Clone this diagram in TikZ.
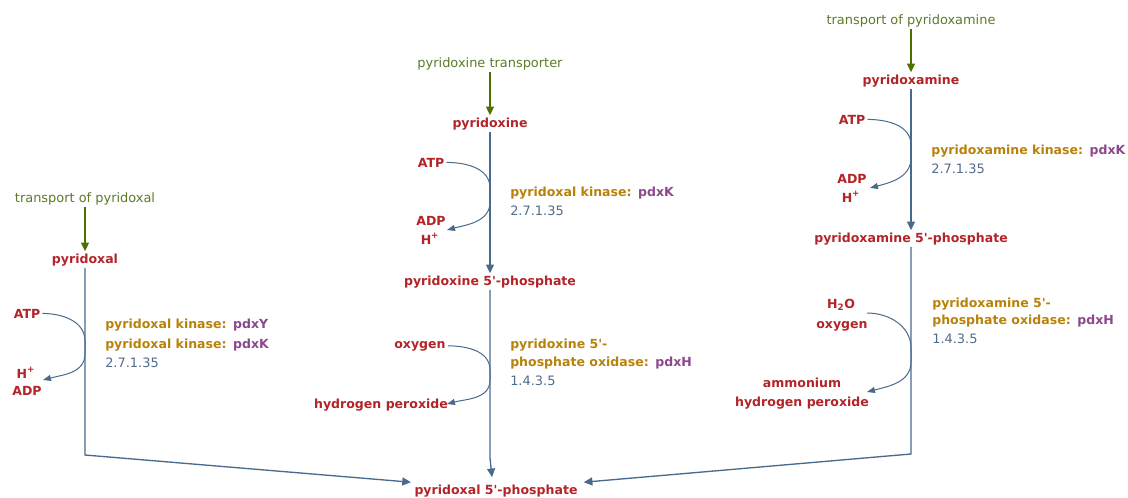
\documentclass[tikz,border=0pt]{standalone}
\usepackage{fontspec}
\setmainfont{DejaVu Sans}
\usetikzlibrary{arrows.meta}

\definecolor{metred}{RGB}{178,36,40}
\definecolor{transgreen}{RGB}{92,122,42}
\definecolor{arrowgreen}{RGB}{78,112,0}
\definecolor{pathblue}{RGB}{72,106,140}
\definecolor{enzorange}{RGB}{184,130,10}
\definecolor{genepurple}{RGB}{140,72,140}
\definecolor{ecblue}{RGB}{80,108,140}

\tikzset{
  met/.style={text=metred, font=\fontsize{9.4}{11}\selectfont\bfseries, anchor=base, inner sep=1.5pt},
  trans/.style={text=transgreen, font=\fontsize{9.7}{11}\selectfont, anchor=base, inner sep=1.5pt},
  enz/.style={text=enzorange, font=\fontsize{9.4}{11}\selectfont\bfseries, anchor=base west, inner sep=0pt},
  ec/.style={text=ecblue, font=\fontsize{9.7}{11}\selectfont, anchor=base west, inner sep=0pt},
  mainline/.style={draw=pathblue, line width=1pt, -{Triangle[length=6.5pt,width=6pt]}},
  sideline/.style={draw=pathblue, line width=0.75pt, -{Triangle[length=6pt,width=4.5pt]}},
  transline/.style={draw=arrowgreen, line width=1pt, -{Triangle[length=6.5pt,width=6pt]}}
}
\newcommand{\gene}[1]{\hspace{0.5pt}\textcolor{genepurple}{#1}}
\newcommand{\pr}{\textquotesingle}

\begin{document}
\begin{tikzpicture}[x=0.75pt,y=-0.75pt]
\useasboundingbox (0,0) rectangle (1128,497);

% Left branch: pyridoxal
\node[trans] (tPL) at (85,202) {transport of pyridoxal};
\node[met] (PL) at (85,263) {pyridoxal};
\node[met] (atpL) at (27,318) {ATP};
\node[met] (hL) at (26,378) {H\textsuperscript{+}};
\node[met] (adpL) at (27,395) {ADP};
\node[enz] (enzL1) at (105,328) {pyridoxal kinase: \gene{pdxY}};
\node[enz] (enzL2) at (105,348) {pyridoxal kinase: \gene{pdxK}};
\node[ec] (ecL) at (105,367) {2.7.1.35};

% Middle branch: pyridoxine
\node[trans] (tPN) at (490,67) {pyridoxine transporter};
\node[met] (PN) at (490,127) {pyridoxine};
\node[met] (atpN) at (431,167) {ATP};
\node[met] (adpN) at (431,225) {ADP};
\node[met] (hN) at (430,244) {H\textsuperscript{+}};
\node[enz] (enzN1) at (510,196) {pyridoxal kinase: \gene{pdxK}};
\node[ec] (ecN1) at (510,215) {2.7.1.35};
\node[met] (PNP) at (490,285) {pyridoxine 5\pr-phosphate};
\node[met] (oxN) at (420,348) {oxygen};
\node[met] (hpN) at (381,408) {hydrogen peroxide};
\node[enz] (enzN2) at (510,348) {pyridoxine 5\pr-};
\node[enz] (enzN3) at (510,366) {phosphate oxidase: \gene{pdxH}};
\node[ec] (ecN2) at (510,385) {1.4.3.5};

% Right branch: pyridoxamine
\node[trans] (tPM) at (911,24) {transport of pyridoxamine};
\node[met] (PM) at (911,84) {pyridoxamine};
\node[met] (atpM) at (852,124) {ATP};
\node[met] (adpM) at (852,183) {ADP};
\node[met] (hM) at (851,202) {H\textsuperscript{+}};
\node[enz] (enzM1) at (931,154) {pyridoxamine kinase: \gene{pdxK}};
\node[ec] (ecM1) at (931,173) {2.7.1.35};
\node[met] (PMP) at (911,242) {pyridoxamine 5\pr-phosphate};
\node[met] (h2oM) at (841,308) {H\textsubscript{2}O};
\node[met] (oxM) at (842,328) {oxygen};
\node[met] (amM) at (802,387) {ammonium};
\node[met] (hpM) at (802,406) {hydrogen peroxide};
\node[enz] (enzM2) at (932,307) {pyridoxamine 5\pr-};
\node[enz] (enzM3) at (932,324) {phosphate oxidase: \gene{pdxH}};
\node[ec] (ecM2) at (932,343) {1.4.3.5};

% Product
\node[met] (PLP) at (496,494) {pyridoxal 5\pr-phosphate};

% Transport arrows
\draw[transline] (tPL) -- (PL);
\draw[transline] (tPN) -- (PN);
\draw[transline] (tPM) -- (PM);

% Main reactions
\draw[mainline] (PN) -- (PNP);
\draw[mainline] (PM) -- (PMP);
\draw[mainline] (PL) -- (85,455) -- ([xshift=-1pt]PLP.north west);
\draw[mainline] (PNP) -- (490,458) -- ([shift={(-4,-5)}]PLP.north);
\draw[mainline] (PMP) -- (911,454) -- ([xshift=3pt]PLP.north east);

% Cofactor arcs
\draw[sideline] (atpL.east) to[out=0,in=90] (85,341) -- (85,354) to[out=-90,in=15] (43,380);
\draw[sideline] (atpN.east) to[out=0,in=90] (490,188) -- (490,202) to[out=-90,in=15] (447,230);
\draw[sideline] (oxN.east) to[out=0,in=90] (490,370) -- (490,380) to[out=-90,in=15] (447,404);
\draw[sideline] (atpM.east) to[out=0,in=90] (911,145) -- (911,158) to[out=-90,in=15] (870,188);
\draw[sideline] (867,313) to[out=0,in=90] (911,348) -- (911,362) to[out=-90,in=15] (867,392);

\end{tikzpicture}
\end{document}
